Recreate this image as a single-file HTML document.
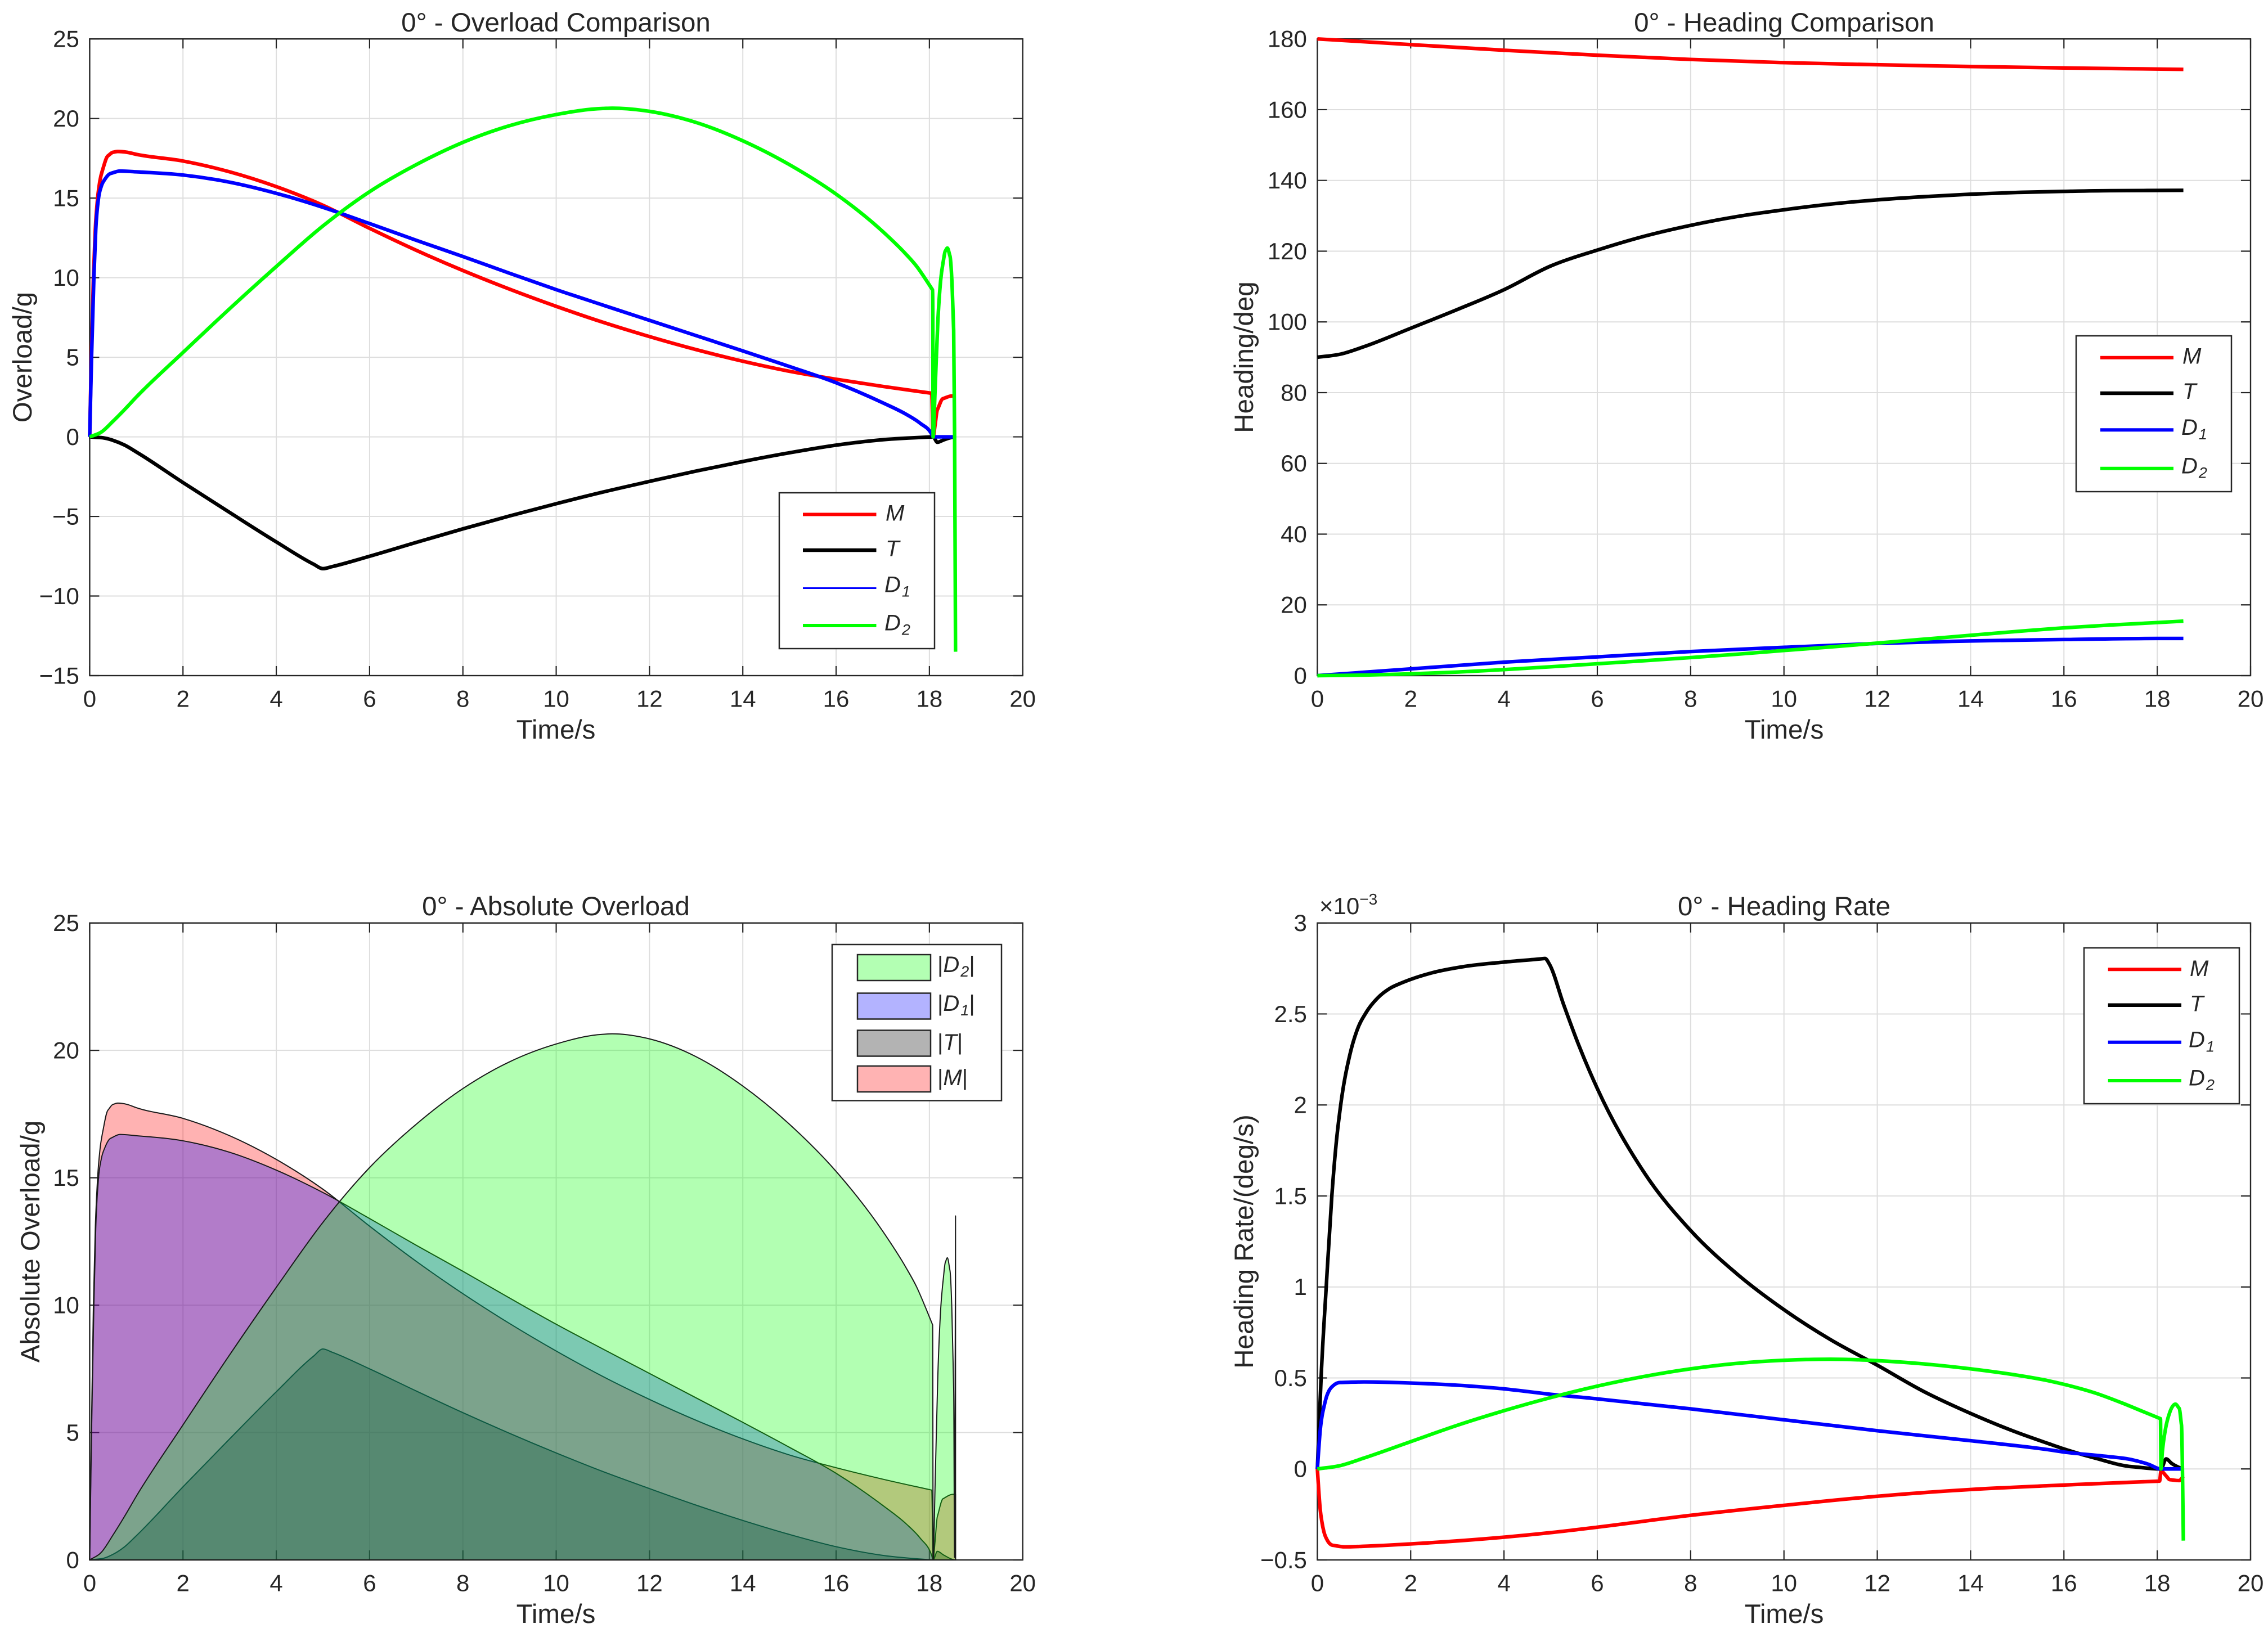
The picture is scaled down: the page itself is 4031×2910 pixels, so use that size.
<!DOCTYPE html>
<html lang="en">
<head>
<meta charset="utf-8">
<title>0° Engagement Comparison Charts</title>
<style>
html,body{margin:0;padding:0;background:#fff;}
svg{display:block;font-family:"Liberation Sans",Arial,sans-serif;fill:#262626;}
.title,.axis-label{font-size:47.5px;}
.legend-text{font-size:40px;font-style:italic;}
.legend-text tspan.sub{font-size:27px;}
.legend-text tspan.up{font-style:normal;}
</style>
</head>
<body>
<svg id="figure" xmlns="http://www.w3.org/2000/svg" width="4031" height="2910" viewBox="0 0 4031 2910">
  <rect x="0" y="0" width="4031" height="2910" fill="#ffffff"></rect>

  <!-- Panel 1 -->
  <g id="overload-plot"></g>
  <text class="title" x="988" y="56" text-anchor="middle">0° - Overload Comparison</text>
  <text class="axis-label" x="988" y="1313" text-anchor="middle">Time/s</text>
  <text class="axis-label" transform="translate(56 635) rotate(-90)" text-anchor="middle">Overload/g</text>
  <g>
    <rect x="1385" y="876" width="276" height="277" fill="#fff" stroke="#262626" stroke-width="2.5"></rect>
    <line x1="1427" x2="1557.5" y1="914.5" y2="914.5" stroke="#ff0000" stroke-width="6"></line>
    <line x1="1427" x2="1557.5" y1="978" y2="978" stroke="#000000" stroke-width="6.5"></line>
    <line x1="1427" x2="1557.5" y1="1045.5" y2="1045.5" stroke="#0000ff" stroke-width="3"></line>
    <line x1="1427" x2="1557.5" y1="1112" y2="1112" stroke="#00ff00" stroke-width="6"></line>
    <text class="legend-text" x="1574" y="925.5">M</text>
    <text class="legend-text" x="1574" y="988.5">T</text>
    <text class="legend-text" x="1572" y="1052.5">D<tspan class="sub" dx="2" dy="8">1</tspan></text>
    <text class="legend-text" x="1572" y="1120.5">D<tspan class="sub" dx="2" dy="8">2</tspan></text>
  </g>

  <!-- Panel 2 -->
  <g id="heading-plot"></g>
  <text class="title" x="3171" y="56" text-anchor="middle">0° - Heading Comparison</text>
  <text class="axis-label" x="3171" y="1313" text-anchor="middle">Time/s</text>
  <text class="axis-label" transform="translate(2227 635) rotate(-90)" text-anchor="middle">Heading/deg</text>
  <g>
    <rect x="3690" y="597" width="276" height="277" fill="#fff" stroke="#262626" stroke-width="2.5"></rect>
    <line x1="3733" x2="3863" y1="635.7" y2="635.7" stroke="#ff0000" stroke-width="6"></line>
    <line x1="3733" x2="3863" y1="699" y2="699" stroke="#000000" stroke-width="6.5"></line>
    <line x1="3733" x2="3863" y1="764.3" y2="764.3" stroke="#0000ff" stroke-width="6"></line>
    <line x1="3733" x2="3863" y1="832.7" y2="832.7" stroke="#00ff00" stroke-width="6"></line>
    <text class="legend-text" x="3879" y="646.7">M</text>
    <text class="legend-text" x="3879" y="709">T</text>
    <text class="legend-text" x="3877" y="773">D<tspan class="sub" dx="2" dy="8">1</tspan></text>
    <text class="legend-text" x="3877" y="841.5">D<tspan class="sub" dx="2" dy="8">2</tspan></text>
  </g>

  <!-- Panel 3 -->
  <g id="absolute-plot"></g>
  <text class="title" x="988" y="1627" text-anchor="middle">0° - Absolute Overload</text>
  <text class="axis-label" x="988" y="2885" text-anchor="middle">Time/s</text>
  <text class="axis-label" transform="translate(70 2207) rotate(-90)" text-anchor="middle">Absolute Overload/g</text>
  <g>
    <rect x="1479" y="1679" width="301" height="277.5" fill="#fff" stroke="#262626" stroke-width="2.5"></rect>
    <rect x="1524" y="1697" width="130" height="46" fill="#b3ffb3" stroke="#262626" stroke-width="2.5"></rect>
    <rect x="1524" y="1765.5" width="130" height="46" fill="#b3b3ff" stroke="#262626" stroke-width="2.5"></rect>
    <rect x="1524" y="1831.5" width="130" height="46" fill="#b3b3b3" stroke="#262626" stroke-width="2.5"></rect>
    <rect x="1524" y="1895" width="130" height="46" fill="#ffb3b3" stroke="#262626" stroke-width="2.5"></rect>
    <text class="legend-text" x="1666" y="1728"><tspan class="up">|</tspan>D<tspan class="sub" dx="2" dy="8">2</tspan><tspan class="up" dy="-8">|</tspan></text>
    <text class="legend-text" x="1666" y="1797"><tspan class="up">|</tspan>D<tspan class="sub" dx="2" dy="8">1</tspan><tspan class="up" dy="-8">|</tspan></text>
    <text class="legend-text" x="1666" y="1866"><tspan class="up">|</tspan>T<tspan class="up">|</tspan></text>
    <text class="legend-text" x="1666" y="1929"><tspan class="up">|</tspan>M<tspan class="up">|</tspan></text>
  </g>

  <!-- Panel 4 -->
  <g id="rate-plot"></g>
  <text class="title" x="3171" y="1627" text-anchor="middle">0° - Heading Rate</text>
  <text class="axis-label" x="3171" y="2885" text-anchor="middle">Time/s</text>
  <text class="axis-label" transform="translate(2227 2207) rotate(-90)" text-anchor="middle">Heading Rate/(deg/s)</text>
  <text font-size="42" x="2345" y="1625">×10<tspan font-size="28" dy="-17">−3</tspan></text>
  <g>
    <rect x="3704" y="1685" width="276" height="277" fill="#fff" stroke="#262626" stroke-width="2.5"></rect>
    <line x1="3746.7" x2="3877" y1="1723.3" y2="1723.3" stroke="#ff0000" stroke-width="6"></line>
    <line x1="3746.7" x2="3877" y1="1786.7" y2="1786.7" stroke="#000000" stroke-width="6.5"></line>
    <line x1="3746.7" x2="3877" y1="1852.7" y2="1852.7" stroke="#0000ff" stroke-width="6"></line>
    <line x1="3746.7" x2="3877" y1="1921" y2="1921" stroke="#00ff00" stroke-width="6"></line>
    <text class="legend-text" x="3892" y="1735">M</text>
    <text class="legend-text" x="3892" y="1797.5">T</text>
    <text class="legend-text" x="3890" y="1861.5">D<tspan class="sub" dx="2" dy="8">1</tspan></text>
    <text class="legend-text" x="3890" y="1929.5">D<tspan class="sub" dx="2" dy="8">2</tspan></text>
  </g>
</svg>

<script>
// ---------- Shared tick arrays ----------
var timeTicks = [0, 2, 4, 6, 8, 10, 12, 14, 16, 18, 20];
var overloadTicks = [-15, -10, -5, 0, 5, 10, 15, 20, 25];
var overloadTickLabels = ['−15', '−10', '−5', '0', '5', '10', '15', '20', '25'];
var headingTicks = [0, 20, 40, 60, 80, 100, 120, 140, 160, 180];
var headingTickLabels = ['0', '20', '40', '60', '80', '100', '120', '140', '160', '180'];
var absoluteTicks = [0, 5, 10, 15, 20, 25];
var absoluteTickLabels = ['0', '5', '10', '15', '20', '25'];
var rateTicks = [-0.5, 0, 0.5, 1, 1.5, 2, 2.5, 3];
var rateTickLabels = ['−0.5', '0', '0.5', '1', '1.5', '2', '2.5', '3'];

// ---------- Overload (g) ----------
var overloadTimeM = [0, 0.036, 0.08, 0.12, 0.17, 0.22, 0.29, 0.39, 0.5, 0.6, 0.8, 1, 2, 3, 4, 5, 6, 7, 8, 9, 10, 11, 12, 13, 14, 15, 16, 17, 18.05, 18.08, 18.12, 18.17, 18.29, 18.48, 18.56];
var overloadM = [0, 5, 10, 13, 15, 16.1, 16.9, 17.65, 17.88, 17.93, 17.88, 17.75, 17.33, 16.65, 15.72, 14.55, 13.1, 11.72, 10.45, 9.28, 8.2, 7.2, 6.3, 5.48, 4.75, 4.12, 3.62, 3.17, 2.74, 0, 0.7, 1.7, 2.4, 2.57, 2.58];
var overloadTimeT = [0, 0.25, 0.5, 0.75, 1, 2, 3, 4, 4.8, 5, 5.2, 6, 7, 8, 9, 10, 11, 12, 13, 14, 15, 16, 17, 18, 18.08, 18.17, 18.3, 18.5, 18.56];
var overloadT = [0, -0.05, -0.22, -0.52, -0.95, -2.87, -4.75, -6.6, -8, -8.28, -8.15, -7.5, -6.63, -5.78, -4.97, -4.2, -3.47, -2.8, -2.15, -1.55, -1, -0.52, -0.18, -0.01, 0, -0.34, -0.2, -0.02, 0];
var overloadTimeD1 = [0, 0.04, 0.09, 0.13, 0.19, 0.25, 0.33, 0.45, 0.65, 1, 2, 3, 4, 5, 6, 7, 8, 9, 10, 11, 12, 13, 14, 15, 16, 17, 17.5, 17.8, 18.05, 18.08, 18.56];
var overloadD1 = [0, 5, 10, 13, 15, 15.75, 16.2, 16.55, 16.7, 16.65, 16.45, 16, 15.3, 14.42, 13.4, 12.35, 11.33, 10.28, 9.25, 8.28, 7.32, 6.36, 5.4, 4.42, 3.4, 2.14, 1.42, 0.86, 0.17, 0, 0];
var overloadTimeD2 = [0, 0.25, 0.5, 0.75, 1, 2, 3, 4, 5, 6, 7, 8, 9, 10, 11, 11.2, 12, 13, 14, 15, 16, 17, 17.49, 17.73, 17.93, 18.07, 18.08, 18.12, 18.18, 18.24, 18.3, 18.34, 18.385, 18.44, 18.48, 18.52, 18.54, 18.56];
var overloadD2 = [0, 0.3, 0.98, 1.72, 2.5, 5.3, 8.05, 10.7, 13.25, 15.4, 17.1, 18.5, 19.55, 20.25, 20.63, 20.65, 20.45, 19.75, 18.6, 17.1, 15.25, 12.9, 11.5, 10.7, 9.85, 9.22, 0, 2.8, 7.2, 9.8, 11.07, 11.67, 11.86, 11.37, 9.9, 6.7, 0.1, -13.5];

// ---------- Heading (deg) ----------
var headingTimeM = [0, 2, 4, 6, 8, 10, 12, 14, 16, 18.56];
var headingM = [180, 178.4, 176.8, 175.4, 174.2, 173.3, 172.7, 172.2, 171.8, 171.4];
var headingTimeT = [0, 0.5, 1, 2, 3, 4, 5, 6, 7, 8, 9, 10, 11, 12, 13, 14, 15, 16, 17, 18.56];
var headingT = [90, 90.9, 93, 98.2, 103.5, 109.1, 115.8, 120.3, 124.2, 127.3, 129.8, 131.7, 133.3, 134.5, 135.4, 136.1, 136.6, 136.9, 137.1, 137.2];
var headingTimeD1 = [0, 2, 4, 6, 8, 10, 12, 14, 16, 18, 18.56];
var headingD1 = [0, 1.9, 3.8, 5.3, 6.8, 8, 9.1, 9.8, 10.2, 10.5, 10.5];
var headingTimeD2 = [0, 1, 2, 3, 4, 5, 6, 7, 8, 9, 10, 11, 12, 13, 14, 15, 16, 17, 18, 18.56];
var headingD2 = [0, 0.15, 0.5, 1, 1.7, 2.5, 3.35, 4.2, 5.1, 6.05, 7.1, 8.1, 9.2, 10.3, 11.4, 12.5, 13.5, 14.3, 15, 15.4];

// ---------- Heading rate (x 10^-3 deg/s) ----------
var rateTimeM = [0, 0.03, 0.06, 0.1, 0.14, 0.22, 0.34, 0.58, 1, 2, 4, 5, 6, 8, 10, 12, 14, 15.66, 18.05, 18.08, 18.19, 18.27, 18.47, 18.56];
var rateM = [0, -0.12, -0.22, -0.295, -0.345, -0.395, -0.42, -0.428, -0.425, -0.412, -0.375, -0.35, -0.32, -0.255, -0.2, -0.15, -0.113, -0.092, -0.067, -0.012, -0.038, -0.059, -0.064, -0.04];
var rateTimeT = [0, 0.04, 0.08, 0.19, 0.31, 0.4, 0.5, 0.7, 0.85, 1.05, 1.3, 1.55, 1.8, 2, 2.44, 3.13, 4, 4.8, 4.88, 4.97, 5.28, 5.6, 6, 7, 8, 9, 10, 11, 12, 13, 14, 15, 15.66, 16, 16.66, 17.47, 18.08, 18.19, 18.31, 18.47, 18.56];
var rateT = [0, 0.25, 0.5, 1, 1.5, 1.78, 2, 2.28, 2.41, 2.51, 2.59, 2.64, 2.67, 2.69, 2.725, 2.76, 2.785, 2.803, 2.805, 2.775, 2.55, 2.33, 2.09, 1.63, 1.31, 1.07, 0.875, 0.71, 0.57, 0.425, 0.305, 0.2, 0.14, 0.11, 0.06, 0.012, 0, 0.055, 0.03, 0.008, 0];
var rateTimeD1 = [0, 0.03, 0.06, 0.1, 0.14, 0.2, 0.25, 0.35, 0.49, 1, 2, 3, 4, 5, 6, 8, 10, 12, 14, 15.66, 16, 16.87, 17.47, 17.83, 18.07, 18.56];
var rateD1 = [0, 0.11, 0.21, 0.29, 0.34, 0.4, 0.43, 0.46, 0.475, 0.478, 0.472, 0.46, 0.44, 0.41, 0.385, 0.33, 0.27, 0.21, 0.155, 0.106, 0.093, 0.07, 0.05, 0.024, 0, 0];
var rateTimeD2 = [0, 0.5, 1, 2, 3, 4, 5, 6, 7, 8, 9, 10, 11, 12, 13, 14, 15, 15.66, 16, 16.66, 17.27, 17.67, 18.07, 18.08, 18.11, 18.17, 18.27, 18.39, 18.47, 18.52, 18.54, 18.56];
var rateD2 = [0, 0.019, 0.06, 0.15, 0.24, 0.32, 0.392, 0.455, 0.508, 0.55, 0.58, 0.597, 0.603, 0.595, 0.577, 0.55, 0.515, 0.485, 0.465, 0.418, 0.36, 0.318, 0.276, 0, 0.096, 0.21, 0.312, 0.356, 0.333, 0.24, 0, -0.394];

// ---------- Helpers ----------
var SVG_NS = 'http://www.w3.org/2000/svg';
var INK = '#262626';
var GRID = '#dedede';

function create(tag, attrs, parent) {
  var node = document.createElementNS(SVG_NS, tag);
  for (var key in attrs) node.setAttribute(key, attrs[key]);
  parent.appendChild(node);
  return node;
}

function makeScale(domainMin, domainMax, rangeMin, rangeMax) {
  return function (value) {
    return rangeMin + (value - domainMin) / (domainMax - domainMin) * (rangeMax - rangeMin);
  };
}

// Smooth cubic path through data points that keeps true corners; returns the SVG path string.
function curvePath(times, values, sx, sy) {
  var xs = times.map(sx);
  var ys = values.map(sy);
  var n = xs.length;
  var slopes = [];
  var i;
  for (i = 0; i < n - 1; i++) slopes.push((ys[i + 1] - ys[i]) / (xs[i + 1] - xs[i]));
  var tangents = [slopes[0]];
  for (i = 1; i < n - 1; i++) {
    var a = slopes[i - 1];
    var b = slopes[i];
    if (a * b <= 0) {
      tangents.push(0);
    } else if (Math.max(Math.abs(a), Math.abs(b)) > 3 * Math.min(Math.abs(a), Math.abs(b))) {
      tangents.push(Math.abs(a) < Math.abs(b) ? a : b);
    } else {
      var h0 = xs[i] - xs[i - 1];
      var h1 = xs[i + 1] - xs[i];
      tangents.push((h1 * a + h0 * b) / (h0 + h1));
    }
  }
  tangents.push(slopes[n - 2]);
  var d = 'M' + xs[0].toFixed(2) + ' ' + ys[0].toFixed(2);
  for (i = 0; i < n - 1; i++) {
    var h = (xs[i + 1] - xs[i]) / 3;
    d += 'C' + (xs[i] + h).toFixed(2) + ' ' + (ys[i] + tangents[i] * h).toFixed(2) + ' ' +
      (xs[i + 1] - h).toFixed(2) + ' ' + (ys[i + 1] - tangents[i + 1] * h).toFixed(2) + ' ' +
      xs[i + 1].toFixed(2) + ' ' + ys[i + 1].toFixed(2);
  }
  return d;
}

// Draws grid, box, ticks and tick labels; returns the axis scales.
function drawAxes(host, prefix, box, yMin, yMax, yTicks, yLabels) {
  var sx = makeScale(0, 20, box.left, box.right);
  var sy = makeScale(yMin, yMax, box.bottom, box.top);
  var gridGroup = create('g', { stroke: GRID, 'stroke-width': 2 }, host);
  
  
  timeTicks.forEach(function (t) {
    var gridX = create('line', { x1: sx(t), x2: sx(t), y1: box.top, y2: box.bottom }, gridGroup);
    
    
  });
  yTicks.forEach(function (v) {
    var gridY = create('line', { x1: box.left, x2: box.right, y1: sy(v), y2: sy(v) }, gridGroup);
    
    
  });
  var frame = create('rect', { x: box.left, y: box.top, width: box.right - box.left, height: box.bottom - box.top, fill: 'none', stroke: INK, 'stroke-width': 2.4 }, host);
  
  
  var tickGroup = create('g', { stroke: INK, 'stroke-width': 2.2 }, host);
  
  
  timeTicks.forEach(function (t) {
    var tickBottom = create('line', { x1: sx(t), x2: sx(t), y1: box.bottom, y2: box.bottom - 17 }, tickGroup);
    
    
    var tickTop = create('line', { x1: sx(t), x2: sx(t), y1: box.top, y2: box.top + 17 }, tickGroup);
    
    
    var xLabel = create('text', { x: sx(t), y: box.bottom + 55.5, 'text-anchor': 'middle', 'font-size': 42 }, host);
    
    
    xLabel.textContent = String(t);
  });
  yTicks.forEach(function (v, i) {
    var tickLeft = create('line', { x1: box.left, x2: box.left + 17, y1: sy(v), y2: sy(v) }, tickGroup);
    
    
    var tickRight = create('line', { x1: box.right, x2: box.right - 17, y1: sy(v), y2: sy(v) }, tickGroup);
    
    
    var yLabel = create('text', { x: box.left - 18.5, y: sy(v) + 14.5, 'text-anchor': 'end', 'font-size': 42 }, host);
    
    
    yLabel.textContent = yLabels[i];
  });
  return { sx: sx, sy: sy };
}

function drawLine(host, name, times, values, scales, color) {
  var line = create('path', { d: curvePath(times, values, scales.sx, scales.sy), fill: 'none', stroke: color, 'stroke-width': 6.4, 'stroke-linejoin': 'round' }, host);
  
  
}

function drawArea(host, name, times, values, scales, color) {
  var magnitudes = values.map(function (v) { return Math.abs(v); });
  var baseline = scales.sy(0);
  var d = curvePath(times, magnitudes, scales.sx, scales.sy) +
    'L' + scales.sx(times[times.length - 1]).toFixed(2) + ' ' + baseline.toFixed(2) +
    'L' + scales.sx(times[0]).toFixed(2) + ' ' + baseline.toFixed(2) + 'Z';
  var area = create('path', { d: d, fill: color, 'fill-opacity': 0.3, stroke: '#1a1a1a', 'stroke-width': 2, 'stroke-linejoin': 'round' }, host);
  
  
}

// ---------- Panel geometry ----------
var boxOverload = { left: 159.4, right: 1817.7, top: 69.2, bottom: 1201 };
var boxHeading = { left: 2341.4, right: 4000, top: 69.2, bottom: 1201 };
var boxAbsolute = { left: 159.4, right: 1817.7, top: 1640.7, bottom: 2773 };
var boxRate = { left: 2341.4, right: 4000, top: 1640.7, bottom: 2773 };

// ---------- Panel 1 ----------
var overloadHost = document.getElementById('overload-plot');
var overloadAxes = drawAxes(overloadHost, 'overload', boxOverload, -15, 25, overloadTicks, overloadTickLabels);
drawLine(overloadHost, 'overload-line-m', overloadTimeM, overloadM, overloadAxes, '#ff0000');
drawLine(overloadHost, 'overload-line-t', overloadTimeT, overloadT, overloadAxes, '#000000');
drawLine(overloadHost, 'overload-line-d1', overloadTimeD1, overloadD1, overloadAxes, '#0000ff');
drawLine(overloadHost, 'overload-line-d2', overloadTimeD2, overloadD2, overloadAxes, '#00ff00');

// ---------- Panel 2 ----------
var headingHost = document.getElementById('heading-plot');
var headingAxes = drawAxes(headingHost, 'heading', boxHeading, 0, 180, headingTicks, headingTickLabels);
drawLine(headingHost, 'heading-line-m', headingTimeM, headingM, headingAxes, '#ff0000');
drawLine(headingHost, 'heading-line-t', headingTimeT, headingT, headingAxes, '#000000');
drawLine(headingHost, 'heading-line-d1', headingTimeD1, headingD1, headingAxes, '#0000ff');
drawLine(headingHost, 'heading-line-d2', headingTimeD2, headingD2, headingAxes, '#00ff00');

// ---------- Panel 3 ----------
var absoluteHost = document.getElementById('absolute-plot');
var absoluteAxes = drawAxes(absoluteHost, 'absolute-overload', boxAbsolute, 0, 25, absoluteTicks, absoluteTickLabels);
drawArea(absoluteHost, 'absolute-area-m', overloadTimeM, overloadM, absoluteAxes, '#ff0000');
drawArea(absoluteHost, 'absolute-area-t', overloadTimeT, overloadT, absoluteAxes, '#000000');
drawArea(absoluteHost, 'absolute-area-d1', overloadTimeD1, overloadD1, absoluteAxes, '#0000ff');
drawArea(absoluteHost, 'absolute-area-d2', overloadTimeD2, overloadD2, absoluteAxes, '#00ff00');

// ---------- Panel 4 ----------
var rateHost = document.getElementById('rate-plot');
var rateAxes = drawAxes(rateHost, 'heading-rate', boxRate, -0.5, 3, rateTicks, rateTickLabels);
drawLine(rateHost, 'heading-rate-line-m', rateTimeM, rateM, rateAxes, '#ff0000');
drawLine(rateHost, 'heading-rate-line-t', rateTimeT, rateT, rateAxes, '#000000');
drawLine(rateHost, 'heading-rate-line-d1', rateTimeD1, rateD1, rateAxes, '#0000ff');
drawLine(rateHost, 'heading-rate-line-d2', rateTimeD2, rateD2, rateAxes, '#00ff00');
</script>
</body>
</html>
